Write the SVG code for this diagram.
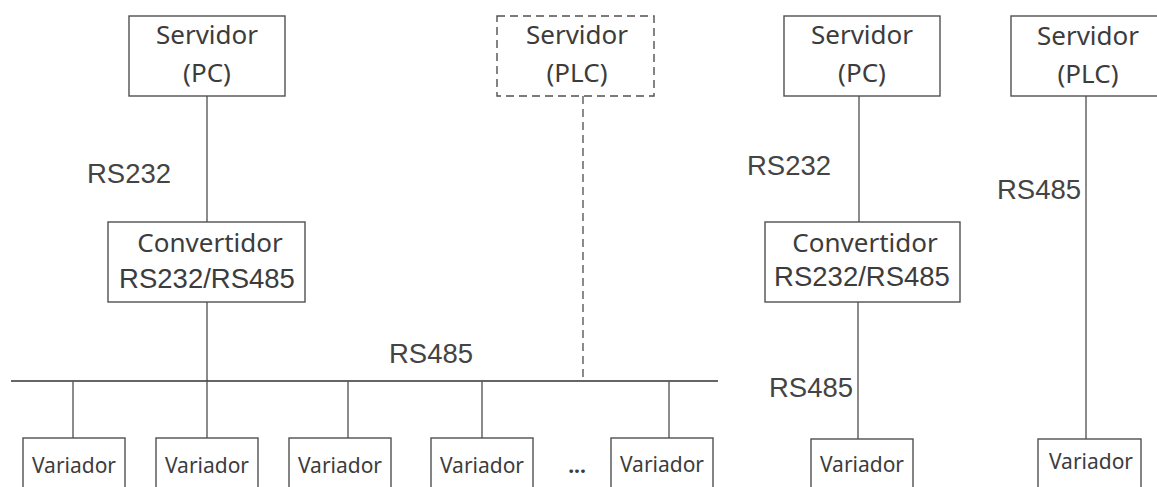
<svg xmlns="http://www.w3.org/2000/svg" width="1157" height="487" viewBox="0 0 1157 487">
<style>
.box{fill:#fff;stroke:#505050;stroke-width:1.4}
.dash{stroke-dasharray:8 5}
.line{stroke:#5a5a5a;stroke-width:1.4;fill:none}
.bus{stroke:#333;stroke-width:1.5;fill:none}
.t{font-family:"Noto Sans","Open Sans",sans-serif;font-size:26px;fill:#3c3c3c;text-anchor:middle}
.v{font-family:"Noto Sans","Open Sans",sans-serif;font-size:21px;fill:#3c3c3c;text-anchor:middle}
.r{font-family:"Liberation Sans",Arial,sans-serif;font-size:27.5px;fill:#444}
.rc{font-family:"Liberation Sans",Arial,sans-serif;font-size:27.5px;fill:#3c3c3c;text-anchor:middle}
</style>
<rect width="1157" height="487" fill="#fff"/>
<g id="connectors">
<line class="line" x1="207" y1="96" x2="207" y2="222"/>
<line class="line" x1="207" y1="302" x2="207" y2="381"/>
<line class="line dash" x1="583" y1="96" x2="583" y2="380"/>
<line class="bus" x1="11" y1="381" x2="718" y2="381"/>
<line class="line" x1="73" y1="381" x2="73" y2="438"/>
<line class="line" x1="207" y1="381" x2="207" y2="438"/>
<line class="line" x1="348" y1="381" x2="348" y2="438"/>
<line class="line" x1="482" y1="381" x2="482" y2="438"/>
<line class="line" x1="669" y1="381" x2="669" y2="438"/>
<line class="line" x1="859" y1="96" x2="859" y2="222"/>
<line class="line" x1="858" y1="302" x2="858" y2="439"/>
<line class="line" x1="1086" y1="96" x2="1086" y2="439"/>
<text class="r" x="87" y="183">RS232</text>
<text class="r" x="389" y="363">RS485</text>
<text class="r" x="747" y="175">RS232</text>
<text class="r" x="997" y="199">RS485</text>
<text class="r" x="769" y="397">RS485</text>
</g>
<g id="srv-pc-1">
<rect class="box" x="129" y="16" width="156" height="80"/>
<text class="t" x="207" y="44">Servidor</text>
<text class="t" x="207" y="82">(PC)</text>
</g>
<g id="srv-plc-1">
<rect class="box dash" x="497" y="16" width="157" height="80"/>
<text class="t" x="577" y="44">Servidor</text>
<text class="t" x="577" y="82">(PLC)</text>
</g>
<g id="conv-1">
<rect class="box" x="108" y="222" width="197" height="80"/>
<text class="t" x="210" y="252">Convertidor</text>
<text class="rc" x="207" y="288">RS232/RS485</text>
</g>
<g id="var-1">
<rect class="box" x="23" y="438" width="102" height="60"/>
<text class="v" x="74" y="473">Variador</text>
</g>
<g id="var-2">
<rect class="box" x="156" y="438" width="102" height="60"/>
<text class="v" x="207" y="473">Variador</text>
</g>
<g id="var-3">
<rect class="box" x="289" y="438" width="102" height="60"/>
<text class="v" x="340" y="473">Variador</text>
</g>
<g id="var-4">
<rect class="box" x="431" y="438" width="102" height="60"/>
<text class="v" x="482" y="473">Variador</text>
</g>
<text class="v" x="577" y="473" font-weight="bold">...</text>
<g id="var-5">
<rect class="box" x="611" y="438" width="102" height="60"/>
<text class="v" x="662" y="472">Variador</text>
</g>
<g id="srv-pc-2">
<rect class="box" x="784" y="16" width="156" height="80"/>
<text class="t" x="862" y="44">Servidor</text>
<text class="t" x="862" y="82">(PC)</text>
</g>
<g id="conv-2">
<rect class="box" x="765" y="222" width="195" height="80"/>
<text class="t" x="865" y="252">Convertidor</text>
<text class="rc" x="862" y="286">RS232/RS485</text>
</g>
<g id="var-6">
<rect class="box" x="811" y="439" width="102" height="60"/>
<text class="v" x="862" y="472">Variador</text>
</g>
<g id="srv-plc-2">
<rect class="box" x="1011" y="16" width="160" height="80"/>
<text class="t" x="1088" y="45">Servidor</text>
<text class="t" x="1088" y="83">(PLC)</text>
</g>
<g id="var-7">
<rect class="box" x="1038" y="439" width="103" height="60"/>
<text class="v" x="1091" y="469">Variador</text>
</g>
</svg>
